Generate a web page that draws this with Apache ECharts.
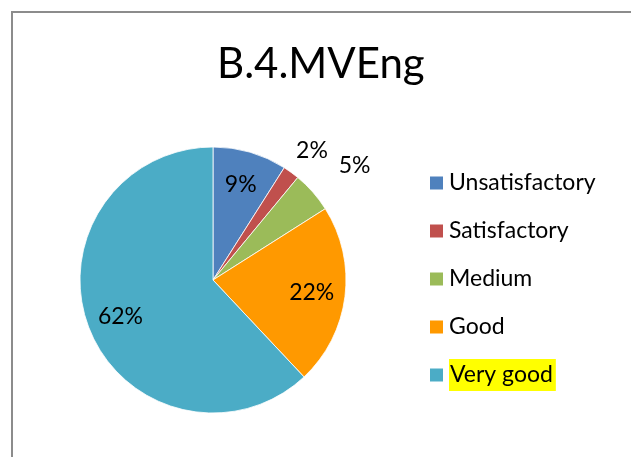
<!DOCTYPE html>
<html>
<head>
<meta charset="utf-8">
<script src="https://cdn.jsdelivr.net/npm/echarts@6/dist/echarts.min.js"></script>
<style>
  html, body { margin: 0; padding: 0; background: #fff; }
  #chart { width: 631px; height: 457px; }
</style>
</head>
<body>
<div id="chart"></div>
<script>
  // data
  var categories = ['Unsatisfactory', 'Satisfactory', 'Medium', 'Good', 'Very good'];
  var values = [9, 2, 5, 22, 62];
  var colors = ['#4F81BD', '#C0504D', '#9BBB59', '#FF9900', '#4BACC6'];

  var font = 'Lato, "Noto Sans", sans-serif';

  // small slices get their label outside the pie, no leader line
  var outsideLabels = {
    1: { len: 27, dist: -11 },
    2: { len: 40, dist: -4 }
  };

  var pieData = categories.map(function (name, i) {
    return { name: name, value: values[i], itemStyle: { color: colors[i] } };
  });

  var labelData = categories.map(function (name, i) {
    var item = { name: name, value: values[i] };
    var o = outsideLabels[i];
    if (o) {
      item.label = { position: 'outside', distanceToLabelLine: o.dist };
      item.labelLine = { show: false, length: o.len, length2: 0 };
    }
    return item;
  });

  var myChart = echarts.init(document.getElementById('chart'));
  var option = {
    animation: false,
    title: {
      text: 'B.4.MVEng',
      left: 217,
      top: 43,
      padding: 0,
      textStyle: { fontFamily: font, fontSize: 42, fontWeight: 'normal', color: '#000' }
    },
    legend: {
      orient: 'vertical',
      left: 428,
      top: 167,
      padding: 0,
      itemWidth: 15,
      itemHeight: 15,
      itemGap: 16,
      icon: 'rect',
      data: categories,
      formatter: function (name) {
        return name === 'Very good' ? '{hl|' + name + '}' : name;
      },
      textStyle: {
        fontFamily: font, fontSize: 23, color: '#000', lineHeight: 32,
        rich: {
          hl: { fontFamily: font, fontSize: 23, color: '#000', lineHeight: 32, height: 32,
                backgroundColor: '#FFFF00', padding: [0, 3, 0, 1] }
        }
      }
    },
    graphic: [{
      type: 'rect',
      shape: { x: 12, y: 12, width: 700, height: 500 },
      style: { fill: 'none', stroke: '#8c8c8c', lineWidth: 2 },
      silent: true
    }],
    series: [
      {
        type: 'pie',
        center: [213, 280],
        radius: 133,
        startAngle: 90,
        clockwise: true,
        avoidLabelOverlap: false,
        label: { show: false },
        labelLine: { show: false },
        itemStyle: { borderColor: '#fff', borderWidth: 0.8 },
        emphasis: { disabled: true },
        data: pieData
      },
      {
        // transparent ring only used to place the percentage labels
        type: 'pie',
        center: [213, 280],
        radius: [60, 133],
        startAngle: 90,
        clockwise: true,
        silent: true,
        avoidLabelOverlap: false,
        itemStyle: { color: 'rgba(0,0,0,0)' },
        emphasis: { disabled: true },
        label: {
          show: true,
          position: 'inside',
          formatter: '{c}%',
          fontFamily: font,
          fontSize: 23,
          color: '#000'
        },
        labelLine: { show: false },
        data: labelData
      }
    ]
  };
  myChart.setOption(option);
</script>
</body>
</html>
